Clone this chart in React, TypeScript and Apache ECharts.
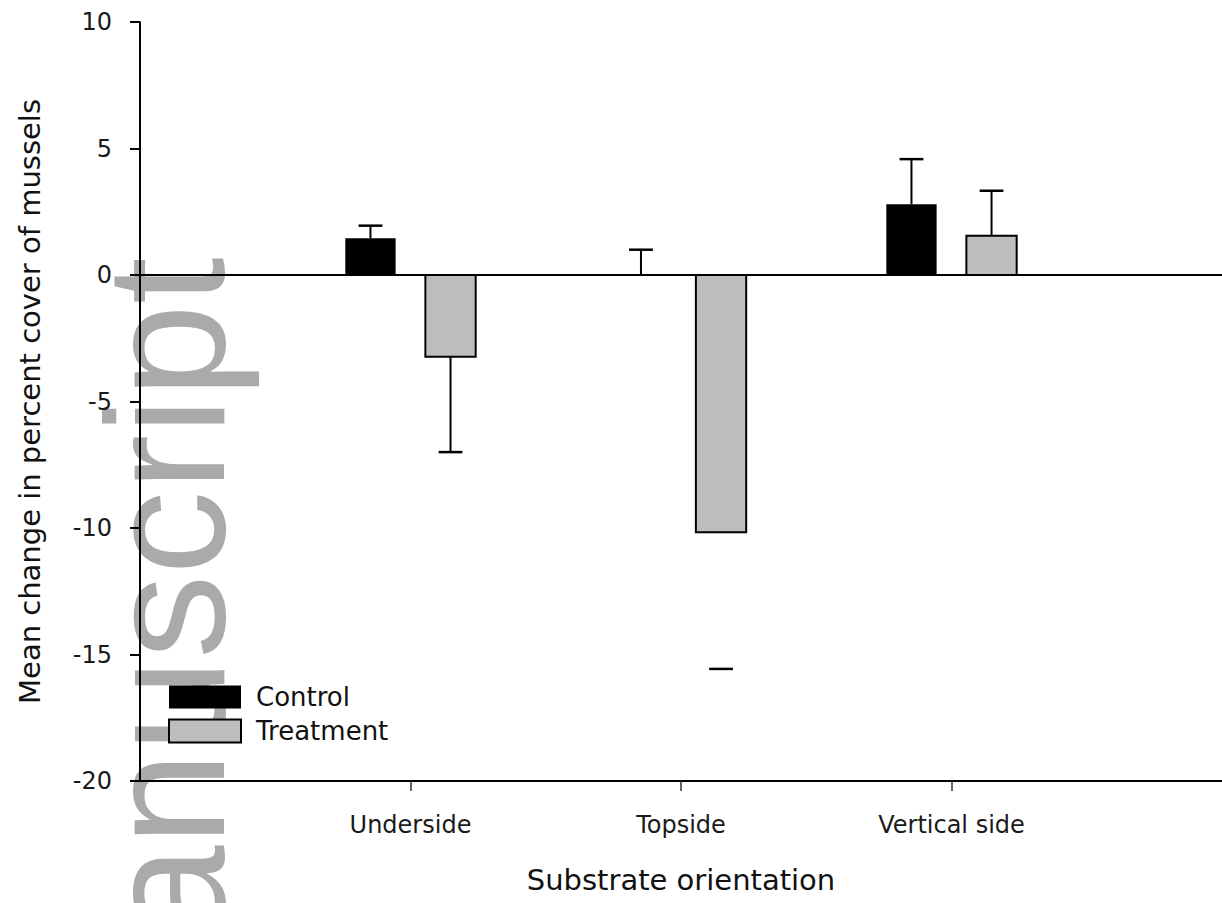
import React, { useEffect, useRef } from 'react';
import * as echarts from 'echarts';

// ---- data ----
const categories = ['Underside', 'Topside', 'Vertical side'];
const categoryPositions = [1, 2, 3];
const seriesNames = ['Control', 'Treatment'];
const controlMeans = [1.45, 0, 2.8];
const controlErrors = [0.5, 1.0, 1.78];
const treatmentMeans = [-3.23, -10.17, 1.55];
const treatmentErrors = [3.77, 5.4, 1.78];
const controlStemShown = [true, true, true];
const treatmentStemShown = [true, false, true];
const yMin = -20;
const yMax = 10;
const yStep = 5;
const xMin = 0;
const xMax = 4;
const watermarkText = 'anuscript';

// ---- styles ----
const BAR_HALF = 0.093;
const CAP_HALF = 0.044;
const OFFSET = 0.148;
const CONTROL_COLOR = '#000000';
const TREATMENT_COLOR = '#bdbdbd';
const FONT = 'DejaVu Sans, Verdana, sans-serif';

function makeRenderItem(offset: number, fill: string, stroke: string | null, stems: boolean[]) {
  return (params: any, api: any) => {
    const idx = params.dataIndex;
    const pos = api.value(0);
    const v = api.value(1);
    const e = api.value(2);
    const cx = pos + offset;
    const children: any[] = [];
    if (v !== 0) {
      const p0 = api.coord([cx - BAR_HALF, 0]);
      const p1 = api.coord([cx + BAR_HALF, v]);
      children.push({
        type: 'rect',
        shape: {
          x: Math.min(p0[0], p1[0]),
          y: Math.min(p0[1], p1[1]),
          width: Math.abs(p1[0] - p0[0]),
          height: Math.abs(p1[1] - p0[1]),
        },
        style: stroke ? { fill, stroke, lineWidth: 2 } : { fill },
      });
    }
    const dir = v < 0 ? -1 : 1;
    const end = v + dir * e;
    const a = api.coord([cx, v]);
    const b = api.coord([cx, end]);
    if (stems[idx]) {
      children.push({
        type: 'line',
        shape: { x1: a[0], y1: a[1], x2: b[0], y2: b[1] },
        style: { stroke: '#000', lineWidth: 2 },
      });
    }
    const c1 = api.coord([cx - CAP_HALF, end]);
    const c2 = api.coord([cx + CAP_HALF, end]);
    children.push({
      type: 'line',
      shape: { x1: c1[0], y1: c1[1], x2: c2[0], y2: c2[1] },
      style: { stroke: '#000', lineWidth: 2.5 },
    });
    return { type: 'group', children };
  };
}

export default function App() {
  const ref = useRef<HTMLDivElement>(null);

  useEffect(() => {
    if (!ref.current) return;
    const chart = echarts.init(ref.current, undefined, { renderer: 'svg' });

    const controlData = categoryPositions.map((p, i) => [p, controlMeans[i], controlErrors[i]]);
    const treatmentData = categoryPositions.map((p, i) => [p, treatmentMeans[i], treatmentErrors[i]]);

    const labelFor = (val: number) => {
      const i = categoryPositions.indexOf(val);
      return i >= 0 ? categories[i] : '';
    };

    chart.setOption({
      animation: false,
      backgroundColor: '#ffffff',
      grid: { left: 140, right: 0, top: 22, bottom: 122, containLabel: false },
      graphic: {
        elements: [
          {
            type: 'text',
            x: 166,
            y: 939,
            rotation: Math.PI / 2,
            z: -10,
            silent: true,
            style: {
              text: watermarkText,
              fontSize: 168,
              fontFamily: 'Liberation Sans, Arial, sans-serif',
              fill: '#aaaaaa',
              textAlign: 'left',
              textVerticalAlign: 'middle',
              align: 'left',
              verticalAlign: 'middle',
            },
          },
        ],
      },
      legend: {
        orient: 'vertical',
        left: 168,
        top: 684,
        padding: 0,
        itemWidth: 72,
        itemHeight: 23,
        itemGap: 8,
        selectedMode: false,
        textStyle: { fontFamily: FONT, fontSize: 26, color: '#111', padding: [0, 0, 0, 10] },
        data: [
          { name: seriesNames[0], icon: 'rect', itemStyle: { color: CONTROL_COLOR } },
          {
            name: seriesNames[1],
            icon: 'rect',
            itemStyle: { color: TREATMENT_COLOR, borderColor: '#000', borderWidth: 2 },
          },
        ],
      },
      xAxis: {
        type: 'value',
        min: xMin,
        max: xMax,
        interval: 1,
        name: 'Substrate orientation',
        nameLocation: 'middle',
        nameGap: 84,
        nameTextStyle: { fontFamily: FONT, fontSize: 29, color: '#111' },
        axisLine: { onZero: false, lineStyle: { color: '#000', width: 2 } },
        axisTick: {
          show: true,
          length: 10,
          customValues: categoryPositions,
          lineStyle: { color: '#333', width: 1.5 },
        },
        axisLabel: {
          margin: 32,
          fontFamily: FONT,
          fontSize: 24,
          color: '#1a1a1a',
          customValues: categoryPositions,
          formatter: (val: number) => labelFor(val),
        },
        splitLine: { show: false },
      },
      yAxis: {
        type: 'value',
        min: yMin,
        max: yMax,
        interval: yStep,
        name: 'Mean change in percent cover of mussels',
        nameLocation: 'middle',
        nameGap: 96,
        nameTextStyle: { fontFamily: FONT, fontSize: 29, color: '#111' },
        axisLine: { show: true, lineStyle: { color: '#000', width: 2 } },
        axisTick: { show: true, length: 10, lineStyle: { color: '#000', width: 2 } },
        axisLabel: { margin: 28, fontFamily: FONT, fontSize: 24, color: '#1a1a1a' },
        splitLine: { show: false },
      },
      series: [
        {
          name: seriesNames[0],
          type: 'custom',
          itemStyle: { color: CONTROL_COLOR },
          encode: { x: 0, y: 1 },
          data: controlData,
          renderItem: makeRenderItem(-OFFSET, CONTROL_COLOR, null, controlStemShown),
          markLine: {
            silent: true,
            symbol: ['none', 'none'],
            label: { show: false },
            lineStyle: { color: '#000', width: 2, type: 'solid' },
            data: [{ yAxis: 0 }],
          },
          z: 3,
        },
        {
          name: seriesNames[1],
          type: 'custom',
          itemStyle: { color: TREATMENT_COLOR },
          encode: { x: 0, y: 1 },
          data: treatmentData,
          renderItem: makeRenderItem(OFFSET, TREATMENT_COLOR, '#000', treatmentStemShown),
          z: 3,
        },
      ],
    });

    return () => {
      chart.dispose();
    };
  }, []);

  return (
    <div
      ref={ref}
      style={{ position: 'fixed', left: 0, top: 0, width: 1222, height: 903, background: '#fff' }}
    />
  );
}
